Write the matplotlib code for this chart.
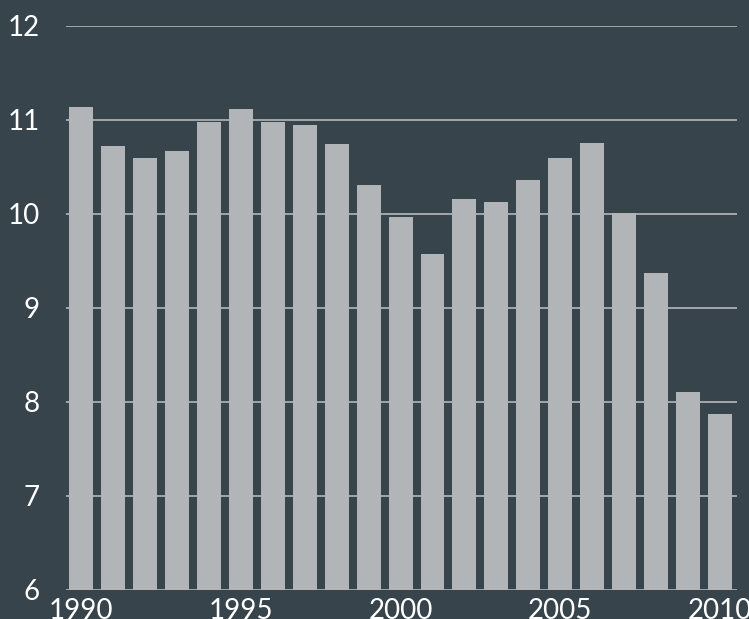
import matplotlib.pyplot as plt

years = list(range(1990, 2011))
values = [11.14, 10.72, 10.60, 10.67, 10.98, 11.12, 10.98, 10.95, 10.74, 10.31,
          9.97, 9.57, 10.16, 10.13, 10.36, 10.60, 10.76, 10.01, 9.37, 8.11, 7.87]
xticks = [1990, 1995, 2000, 2005, 2010]
yticks = [6, 7, 8, 9, 10, 11, 12]

bg = "#37444c"
bar_color = "#b1b5b7"
grid_color = "#a3a7a9"

plt.rcParams['font.family'] = ['Lato', 'DejaVu Sans']

fig = plt.figure(figsize=(7.49, 6.19), dpi=100, facecolor=bg)
ax = fig.add_axes([66 / 749, 29 / 619, 671 / 749, 564 / 619], facecolor=bg)

ax.bar(years, values, width=0.75, color=bar_color, zorder=2)

ax.set_ylim(6, 12)
ax.set_xlim(1989.53, 2010.53)
ax.set_yticks(yticks)
ax.set_xticks(xticks)
ax.yaxis.grid(True, color=grid_color, linewidth=1.4, zorder=1)
ax.set_axisbelow(True)

for s in ax.spines.values():
    s.set_visible(False)
ax.tick_params(axis='both', length=0, colors='white', labelsize=20)
ax.tick_params(axis='y', pad=19)
ax.tick_params(axis='x', pad=6)

fig.savefig("out.png", dpi=100, facecolor=bg)
